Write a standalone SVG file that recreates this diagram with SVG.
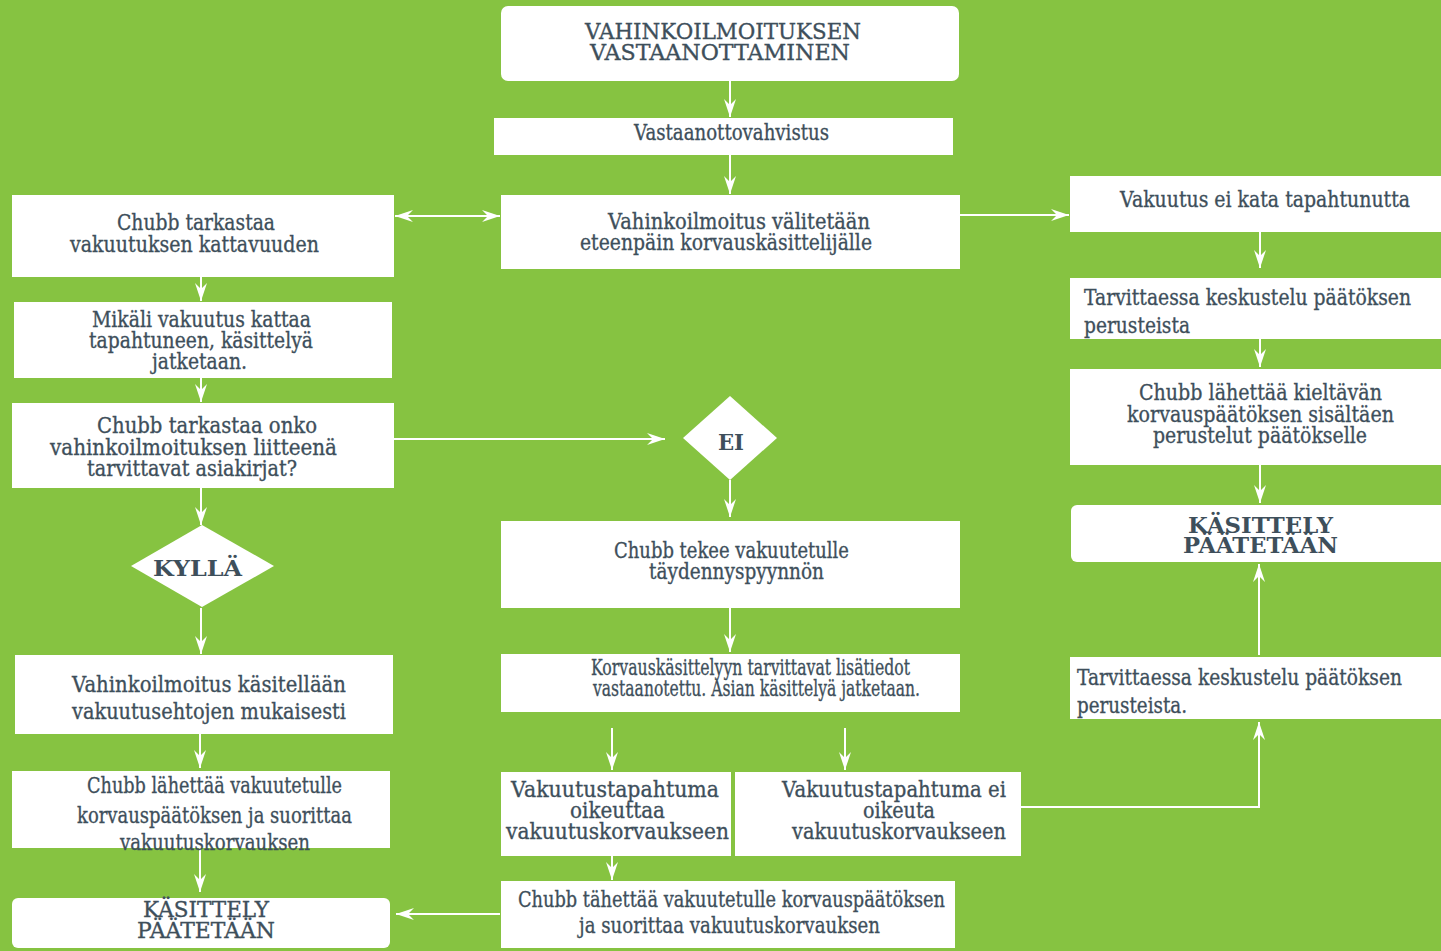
<svg xmlns="http://www.w3.org/2000/svg" width="1441" height="951" viewBox="0 0 1441 951">
<style>
.bg{fill:#86c341}
.box{fill:#ffffff}
.t{font-family:"DejaVu Serif","Liberation Serif",serif;font-size:23px;fill:#3e4f5b;stroke:#3e4f5b;stroke-width:0.35}
.c{text-anchor:middle}
.b{font-weight:bold;stroke-width:0}
.cap{font-size:23px}
.con{fill:none;stroke:#ffffff;stroke-width:2}
</style>
<defs>
<marker id="ah" viewBox="0 0 18 12" markerWidth="18" markerHeight="12" markerUnits="userSpaceOnUse" refX="18" refY="6" orient="auto-start-reverse">
<path d="M0,0 L18,6 L0,12 L6,6 Z" fill="#ffffff"/>
</marker>
</defs>
<rect class="bg" x="0" y="0" width="1441" height="951"/>

<g id="connectors">
<path class="con" d="M730,81 V117" marker-end="url(#ah)"/>
<path class="con" d="M730,155 V194" marker-end="url(#ah)"/>
<path class="con" d="M395,216 H500" marker-start="url(#ah)" marker-end="url(#ah)"/>
<path class="con" d="M960,215 H1069" marker-end="url(#ah)"/>
<path class="con" d="M201,277 V301" marker-end="url(#ah)"/>
<path class="con" d="M201,378 V402" marker-end="url(#ah)"/>
<path class="con" d="M394,439 H665" marker-end="url(#ah)"/>
<path class="con" d="M201,488 V525" marker-end="url(#ah)"/>
<path class="con" d="M201,608 V654" marker-end="url(#ah)"/>
<path class="con" d="M200,734 V768" marker-end="url(#ah)"/>
<path class="con" d="M200,848 V892" marker-end="url(#ah)"/>
<path class="con" d="M730,480 V517" marker-end="url(#ah)"/>
<path class="con" d="M730,608 V652" marker-end="url(#ah)"/>
<path class="con" d="M612,728 V770" marker-end="url(#ah)"/>
<path class="con" d="M845,728 V770" marker-end="url(#ah)"/>
<path class="con" d="M612,856 V880" marker-end="url(#ah)"/>
<path class="con" d="M500,914 H396" marker-end="url(#ah)"/>
<path class="con" d="M1260,232 V268" marker-end="url(#ah)"/>
<path class="con" d="M1260,339 V367" marker-end="url(#ah)"/>
<path class="con" d="M1260,465 V503" marker-end="url(#ah)"/>
<path class="con" d="M1021,807 H1259 V722" marker-end="url(#ah)"/>
<path class="con" d="M1259,655 V564" marker-end="url(#ah)"/>
</g>

<g id="n-vastaanottaminen">
<rect class="box" x="501" y="6" width="458" height="75" rx="7"/>
<text class="t c cap" x="723" y="39" textLength="276" lengthAdjust="spacingAndGlyphs">VAHINKOILMOITUKSEN</text>
<text class="t c cap" x="720" y="60" textLength="260" lengthAdjust="spacingAndGlyphs">VASTAANOTTAMINEN</text>
</g>
<g id="n-vahvistus">
<rect class="box" x="494" y="118" width="459" height="37"/>
<text class="t c" x="731.5" y="140" textLength="195" lengthAdjust="spacingAndGlyphs">Vastaanottovahvistus</text>
</g>
<g id="n-valitetaan">
<rect class="box" x="501" y="195" width="459" height="74"/>
<text class="t c" x="739" y="229" textLength="262" lengthAdjust="spacingAndGlyphs">Vahinkoilmoitus välitetään</text>
<text class="t c" x="726" y="250" textLength="292" lengthAdjust="spacingAndGlyphs">eteenpäin korvauskäsittelijälle</text>
</g>
<g id="n-kattavuus">
<rect class="box" x="12" y="195" width="382" height="82"/>
<text class="t c" x="196" y="230" textLength="158" lengthAdjust="spacingAndGlyphs">Chubb tarkastaa</text>
<text class="t c" x="194.5" y="252" textLength="249" lengthAdjust="spacingAndGlyphs">vakuutuksen kattavuuden</text>
</g>
<g id="n-mikali">
<rect class="box" x="14" y="302" width="378" height="76"/>
<text class="t c" x="201.5" y="327" textLength="219" lengthAdjust="spacingAndGlyphs">Mikäli vakuutus kattaa</text>
<text class="t c" x="201" y="348" textLength="224" lengthAdjust="spacingAndGlyphs">tapahtuneen, käsittelyä</text>
<text class="t c" x="199.5" y="369" textLength="95" lengthAdjust="spacingAndGlyphs">jatketaan.</text>
</g>
<g id="n-asiakirjat">
<rect class="box" x="12" y="403" width="382" height="85"/>
<text class="t c" x="207" y="433" textLength="220" lengthAdjust="spacingAndGlyphs">Chubb tarkastaa onko</text>
<text class="t c" x="193.5" y="455" textLength="287" lengthAdjust="spacingAndGlyphs">vahinkoilmoituksen liitteenä</text>
<text class="t c" x="192" y="476" textLength="210" lengthAdjust="spacingAndGlyphs">tarvittavat asiakirjat?</text>
</g>
<g id="n-kylla">
<polygon class="box" points="131,566 202,525 274,566 202,607"/>
<text class="t c b" x="197.5" y="576" textLength="89" lengthAdjust="spacingAndGlyphs">KYLLÄ</text>
</g>
<g id="n-kasitellaan">
<rect class="box" x="15" y="655" width="378" height="79"/>
<text class="t c" x="209" y="692" textLength="274" lengthAdjust="spacingAndGlyphs">Vahinkoilmoitus käsitellään</text>
<text class="t c" x="209" y="719" textLength="274" lengthAdjust="spacingAndGlyphs">vakuutusehtojen mukaisesti</text>
</g>
<g id="n-lahettaa-korvaus">
<rect class="box" x="12" y="771" width="378" height="77"/>
<text class="t c" x="214.5" y="793" textLength="255" lengthAdjust="spacingAndGlyphs">Chubb lähettää vakuutetulle</text>
<text class="t c" x="214.5" y="823" textLength="275" lengthAdjust="spacingAndGlyphs">korvauspäätöksen ja suorittaa</text>
<text class="t c" x="215" y="850" textLength="190" lengthAdjust="spacingAndGlyphs">vakuutuskorvauksen</text>
</g>
<g id="n-paatetaan-left">
<rect class="box" x="12" y="898" width="378" height="50" rx="6"/>
<text class="t c" x="206" y="917" textLength="126" lengthAdjust="spacingAndGlyphs">KÄSITTELY</text>
<text class="t c" x="206" y="938" textLength="138" lengthAdjust="spacingAndGlyphs">PÄÄTETÄÄN</text>
</g>
<g id="n-ei-kata">
<rect class="box" x="1070" y="176" width="371" height="56"/>
<text class="t c" x="1265" y="207" textLength="290" lengthAdjust="spacingAndGlyphs">Vakuutus ei kata tapahtunutta</text>
</g>
<g id="n-keskustelu-1">
<rect class="box" x="1070" y="278" width="371" height="61"/>
<text class="t" x="1084" y="305" textLength="327" lengthAdjust="spacingAndGlyphs">Tarvittaessa keskustelu päätöksen</text>
<text class="t" x="1084" y="333" textLength="106" lengthAdjust="spacingAndGlyphs">perusteista</text>
</g>
<g id="n-kieltava">
<rect class="box" x="1070" y="369" width="371" height="96"/>
<text class="t c" x="1260.5" y="400" textLength="243" lengthAdjust="spacingAndGlyphs">Chubb lähettää kieltävän</text>
<text class="t c" x="1260.5" y="422" textLength="267" lengthAdjust="spacingAndGlyphs">korvauspäätöksen sisältäen</text>
<text class="t c" x="1260" y="443" textLength="214" lengthAdjust="spacingAndGlyphs">perustelut päätökselle</text>
</g>
<g id="n-paatetaan-right">
<rect class="box" x="1071" y="505" width="385" height="57" rx="6"/>
<text class="t c b" x="1260.5" y="533" textLength="145" lengthAdjust="spacingAndGlyphs">KÄSITTELY</text>
<text class="t c b" x="1260.5" y="553" textLength="155" lengthAdjust="spacingAndGlyphs">PÄÄTETÄÄN</text>
</g>
<g id="n-keskustelu-2">
<rect class="box" x="1070" y="657" width="371" height="62"/>
<text class="t" x="1077" y="685" textLength="325" lengthAdjust="spacingAndGlyphs">Tarvittaessa keskustelu päätöksen</text>
<text class="t" x="1077" y="713" textLength="110" lengthAdjust="spacingAndGlyphs">perusteista.</text>
</g>
<g id="n-ei">
<polygon class="box" points="683,438 730,396 777,438 730,480"/>
<text class="t c b" x="731" y="450" textLength="26" lengthAdjust="spacingAndGlyphs">EI</text>
</g>
<g id="n-taydennys">
<rect class="box" x="501" y="521" width="459" height="87"/>
<text class="t c" x="731.5" y="558" textLength="235" lengthAdjust="spacingAndGlyphs">Chubb  tekee vakuutetulle</text>
<text class="t c" x="736.5" y="579" textLength="175" lengthAdjust="spacingAndGlyphs">täydennyspyynnön</text>
</g>
<g id="n-lisatiedot">
<rect class="box" x="501" y="654" width="459" height="58"/>
<text class="t c" x="750.5" y="675" textLength="319" lengthAdjust="spacingAndGlyphs">Korvauskäsittelyyn tarvittavat lisätiedot</text>
<text class="t c" x="756.5" y="696" textLength="327" lengthAdjust="spacingAndGlyphs">vastaanotettu. Asian käsittelyä jatketaan.</text>
</g>
<g id="n-oikeuttaa">
<rect class="box" x="501" y="772" width="230" height="84"/>
<text class="t c" x="615" y="797" textLength="208" lengthAdjust="spacingAndGlyphs">Vakuutustapahtuma</text>
<text class="t c" x="617.5" y="818" textLength="95" lengthAdjust="spacingAndGlyphs">oikeuttaa</text>
<text class="t c" x="617.5" y="839" textLength="223" lengthAdjust="spacingAndGlyphs">vakuutuskorvaukseen</text>
</g>
<g id="n-ei-oikeuta">
<rect class="box" x="735" y="772" width="286" height="84"/>
<text class="t c" x="894" y="797" textLength="224" lengthAdjust="spacingAndGlyphs">Vakuutustapahtuma ei</text>
<text class="t c" x="899" y="818" textLength="72" lengthAdjust="spacingAndGlyphs">oikeuta</text>
<text class="t c" x="899" y="839" textLength="214" lengthAdjust="spacingAndGlyphs">vakuutuskorvaukseen</text>
</g>
<g id="n-tahettaa">
<rect class="box" x="501" y="881" width="454" height="67"/>
<text class="t c" x="731.5" y="907" textLength="427" lengthAdjust="spacingAndGlyphs">Chubb tähettää vakuutetulle korvauspäätöksen</text>
<text class="t c" x="729.5" y="933" textLength="301" lengthAdjust="spacingAndGlyphs">ja suorittaa vakuutuskorvauksen</text>
</g>
</svg>
